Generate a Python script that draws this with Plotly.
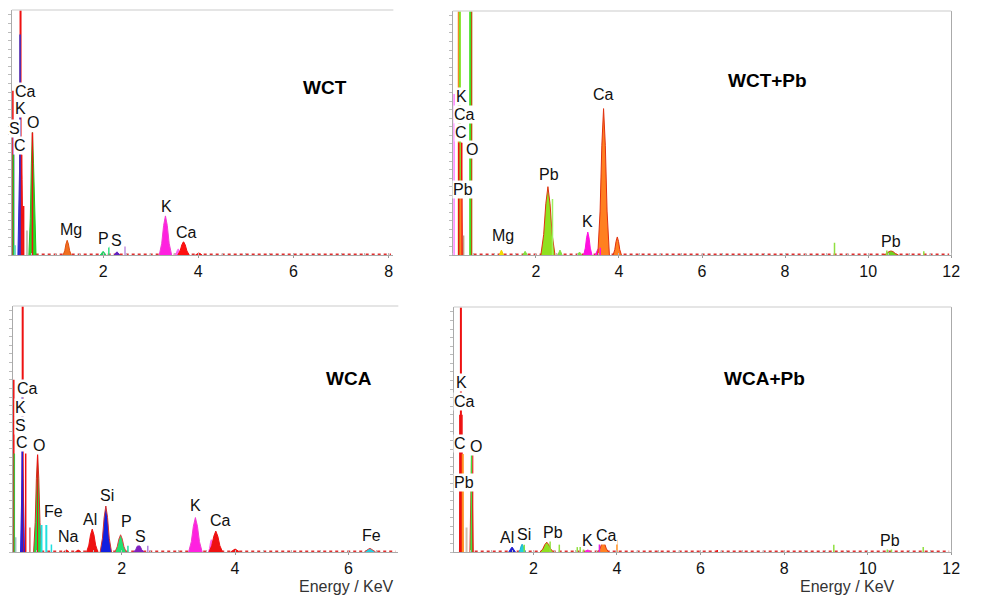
import plotly.graph_objects as go

FONT = "Arial, Liberation Sans, sans-serif"

# ---------------- Panel data (energy keV, height % of panel) ----------------
# Panel 1: WCT
p1_title = "WCT"
p1_pk_e = [0.25, 0.29, 0.515, 1.245, 2.0, 2.29, 3.31, 3.58, 3.69, 4.01]
p1_pk_h = [41, 41, 50, 6, 1.5, 1.3, 16, 2.5, 5.5, 0.8]
p1_pk_w = [0.04, 0.025, 0.075, 0.085, 0.06, 0.06, 0.13, 0.07, 0.12, 0.07]
p1_pk_c = ["#2a2ad8", "#ee1111", "#22e022", "#f07020", "#20d060", "#6020c0",
           "#ff20e0", "#ff60f0", "#ff1010", "#ff1010"]
p1_pk_l = ["#2a2ad8", "#ee1111", "#22c022", "#e05010", "#20d060", "#6020c0",
           "#f040d0", "#ff60f0", "#ee1010", "#ee1010"]
p1_st_e = [0.265, 0.255, 0.104, 0.12, 0.115, 0.33, 0.40, 0.145, 0.515, 2.12, 2.46]
p1_st_h = [105, 90, 67, 51, 41, 20, 10, 4, 50, 3.5, 3.5]
p1_st_c = ["#ee1111", "#3030d0", "#ee1111", "#8040e0", "#20c020", "#ee1111",
           "#c8c0b8", "#60d0c0", "#ee1111", "#30e080", "#c090e0"]
p1_st_w = [2, 1.5, 1.5, 1.5, 1.5, 1.5, 2, 2, 1.5, 1.5, 1.5]
p1_lb_t = ["Ca", "K", "S", "C", "O", "Mg", "P", "S", "K", "Ca"]
p1_lb_e = [0.375, 0.27, 0.146, 0.25, 0.52, 1.333, 2.0, 2.29, 3.33, 3.75]
p1_lb_y = [66.9, 59.6, 51.8, 44.5, 53.9, 10.6, 6.9, 6.1, 19.6, 9.0]
p1_ticks = [2, 4, 6, 8]

# Panel 2: WCT+Pb
p2_title = "WCT+Pb"
p2_pk_e = [0.2, 2.29, 3.25, 3.5, 3.63, 3.96, 1.17, 10.55, 1.74, 2.58, 3.05]
p2_pk_h = [46, 28, 9.4, 2.5, 60, 7.4, 2, 1.8, 1.5, 2, 1.2]
p2_pk_w = [0.03, 0.17, 0.1, 0.07, 0.14, 0.1, 0.05, 0.18, 0.05, 0.05, 0.05]
p2_pk_c = ["#ee1111", "#90e020", "#ff10e0", "#ff10e0", "#ff8020", "#ff8020",
           "#f0e000", "#70d020", "#80e040", "#80e040", "#80e040"]
p2_pk_l = ["#ee1111", "#e03010", "#ff10e0", "#ff10e0", "#e03010", "#e03010",
           "#f0d000", "#e03010", "#80e040", "#80e040", "#80e040"]
p2_st_e = [0.143, 0.17, 0.143, 0.215, 0.19, 0.43, 0.455, 0.26, 0.03, 2.4,
           9.19, 10.45, 11.34, 3.55]
p2_st_h = [105, 105, 46, 46, 27, 105, 105, 8, 66, 23, 5, 4.5, 1.5, 3]
p2_st_c = ["#ff8020", "#80e020", "#ee1111", "#ee1111", "#ff8020", "#40e020",
           "#e03010", "#c0a080", "#ff40ff", "#a0f060", "#90e040", "#90e040",
           "#90e040", "#ff10e0"]
p2_st_w = [2, 2, 1.5, 1.5, 1.5, 3, 1, 1.5, 1, 1.5, 1.5, 1.5, 1.5, 1.5]
p2_lb_t = ["K", "Ca", "C", "O", "Pb", "Mg", "Pb", "K", "Ca", "Pb"]
p2_lb_e = [0.215, 0.286, 0.19, 0.453, 0.239, 1.217, 2.315, 3.246, 3.628, 10.55]
p2_lb_y = [64.8, 57.4, 50.4, 43.4, 27.0, 7.8, 32.8, 13.9, 65.6, 5.7]
p2_ticks = [2, 4, 6, 8, 10, 12]

# Panel 3: WCA
p3_title = "WCA"
p3_pk_e = [0.25, 0.516, 1.48, 1.72, 1.98, 2.30, 3.30, 3.58, 3.66, 4.0, 6.38, 1.02, 1.23]
p3_pk_h = [40, 40, 9.3, 18.7, 7, 3, 14, 5, 8.5, 1.2, 1.5, 0.8, 0.8]
p3_pk_w = [0.035, 0.07, 0.1, 0.1, 0.1, 0.09, 0.12, 0.05, 0.12, 0.08, 0.1, 0.05, 0.05]
p3_pk_c = ["#2020e0", "#20e040", "#ee1111", "#1020e0", "#20e070", "#8020c0",
           "#ff20e0", "#ff60f0", "#ee1111", "#ee1111", "#20d0e0", "#ee1111", "#ee1111"]
p3_pk_l = ["#2020e0", "#d03020", "#ee1111", "#d03030", "#e04040", "#8020c0",
           "#f040d0", "#ff60f0", "#ee1111", "#ee1111", "#e04040", "#ee1111", "#ee1111"]
p3_st_e = [0.253, 0.245, 0.096, 0.105, 0.306, 0.38, 0.13, 0.585, 0.67, 0.76,
           0.516, 2.11, 2.46]
p3_st_h = [105, 70, 70, 40, 40, 10, 6, 11, 11, 3, 40, 2.5, 2.5]
p3_st_c = ["#ee1111", "#2020e0", "#ee1111", "#40c040", "#ee1111", "#e06060",
           "#a0c0c0", "#20e0e0", "#20e0e0", "#20e0e0", "#ee1111", "#20e0a0", "#b080e0"]
p3_st_w = [2, 1.5, 1.5, 1.5, 1.5, 1.5, 1.5, 2, 2, 1.5, 1, 1.5, 1.5]
p3_lb_t = ["Ca", "K", "S", "C", "O", "Fe", "Na", "Al", "Si", "P", "S", "K", "Ca", "Fe"]
p3_lb_e = [0.341, 0.219, 0.219, 0.236, 0.533, 0.795, 1.058, 1.442, 1.74, 2.089,
           2.334, 3.295, 3.75, 6.41]
p3_lb_y = [66.3, 58.9, 51.6, 44.7, 43.1, 16.3, 6.1, 13.4, 22.8, 12.2, 6.1, 19.1, 13.0, 6.9]
p3_ticks = [2, 4, 6]

# Panel 4: WCA+Pb
p4_title = "WCA+Pb"
p4_pk_e = [0.26, 0.3, 0.52, 1.49, 1.73, 2.32, 3.3, 3.67]
p4_pk_h = [40, 40, 40, 2, 3.2, 4, 1, 4.2]
p4_pk_w = [0.03, 0.02, 0.04, 0.08, 0.08, 0.16, 0.07, 0.13]
p4_pk_c = ["#ee1111", "#ff9020", "#40e040", "#2020d0", "#20d0e0", "#90e020",
           "#ff20e0", "#ff8020"]
p4_pk_l = ["#ee1111", "#ff9020", "#e03020", "#2020d0", "#20b0d0", "#e03010",
           "#ff20e0", "#e03010"]
p4_st_e = [0.265, 0.24, 0.29, 0.31, 0.52, 0.55, 0.40, 0.07, 1.78, 2.4, 2.62,
           3.05, 3.12, 3.2, 3.58, 4.0, 9.19, 10.47, 10.57, 11.33, 6.4]
p4_st_h = [105, 56, 56, 40, 40, 42, 10, 60, 3, 6, 3, 2, 2, 2, 6, 5, 3, 4, 3, 2, 0.8]
p4_st_c = ["#ee1111", "#ee1111", "#ee1111", "#ff9020", "#40e040", "#ee1111",
           "#d0c0b0", "#e040e0", "#80e040", "#90e040", "#90e040", "#90e040",
           "#90e040", "#90e040", "#e020e0", "#ff9020", "#90e040", "#90e040",
           "#90e040", "#90e040", "#ee1111"]
p4_st_w = [2, 1.5, 1.5, 2, 1.5, 1, 2, 1, 1.5, 1.5, 1.5, 1.5, 1.5, 1.5, 1.5, 1.5,
           1.5, 1.5, 1.5, 1.5, 1.5]
p4_lb_t = ["K", "Ca", "C", "O", "Pb", "Al", "Si", "Pb", "K", "Ca", "Pb"]
p4_lb_e = [0.284, 0.355, 0.237, 0.616, 0.332, 1.374, 1.777, 2.464, 3.294, 3.744, 10.545]
p4_lb_y = [69.0, 61.6, 44.1, 42.9, 28.2, 6.1, 7.3, 7.8, 4.9, 6.9, 4.5]
p4_ticks = [2, 4, 6, 8, 10, 12]

panels = [
    dict(title=p1_title, pk=(p1_pk_e, p1_pk_h, p1_pk_w, p1_pk_c, p1_pk_l),
         st=(p1_st_e, p1_st_h, p1_st_c, p1_st_w), lb=(p1_lb_t, p1_lb_e, p1_lb_y),
         ticks=p1_ticks, xr=[0.083, 8.1], dom_x=[12, 397], dom_y=[10, 255],
         title_xy=(328, 75), right=False, xtitle=False),
    dict(title=p2_title, pk=(p2_pk_e, p2_pk_h, p2_pk_w, p2_pk_c, p2_pk_l),
         st=(p2_st_e, p2_st_h, p2_st_c, p2_st_w), lb=(p2_lb_t, p2_lb_e, p2_lb_y),
         ticks=p2_ticks, xr=[0.0, 12.0], dom_x=[457, 960], dom_y=[11, 255],
         title_xy=(816, 68), right=True, xtitle=False),
    dict(title=p3_title, pk=(p3_pk_e, p3_pk_h, p3_pk_w, p3_pk_c, p3_pk_l),
         st=(p3_st_e, p3_st_h, p3_st_c, p3_st_w), lb=(p3_lb_t, p3_lb_e, p3_lb_y),
         ticks=p3_ticks, xr=[0.08, 6.88], dom_x=[13, 402], dom_y=[306, 552],
         title_xy=(327, 378), right=False, xtitle=(350, 597)),
    dict(title=p4_title, pk=(p4_pk_e, p4_pk_h, p4_pk_w, p4_pk_c, p4_pk_l),
         st=(p4_st_e, p4_st_h, p4_st_c, p4_st_w), lb=(p4_lb_t, p4_lb_e, p4_lb_y),
         ticks=p4_ticks, xr=[0.095, 12.0], dom_x=[458, 960], dom_y=[307, 552],
         title_xy=(814, 378), right=True, xtitle=(905, 597)),
]

W, H = 983, 610
fig = go.Figure()
annotations = []
shapes = []

# relative profile of a peak (shape only)
prof_dx = [-1, -0.6, -0.3, 0, 0.3, 0.6, 1]
prof_dy = [0, 0.3, 0.75, 1, 0.75, 0.3, 0]

for i, p in enumerate(panels, start=1):
    xa = "x" if i == 1 else f"x{i}"
    ya = "y" if i == 1 else f"y{i}"
    fig.add_trace(go.Scatter(x=[p["xr"][0] + 0.5, p["xr"][1] - 0.05], y=[0.35, 0.35],
                             mode="lines", line=dict(color="#e03030", width=1.5, dash="dot"),
                             xaxis=xa, yaxis=ya, hoverinfo="skip"))
    pe, ph, pw, pc, pl = p["pk"]
    for e, h, w, c, l in zip(pe, ph, pw, pc, pl):
        fig.add_trace(go.Scatter(
            x=[e + d * w for d in prof_dx], y=[h * d for d in prof_dy],
            mode="lines", fill="toself", fillcolor=c,
            line=dict(color=l, width=1), xaxis=xa, yaxis=ya, hoverinfo="skip"))
    se, sh, sc, sw = p["st"]
    for e, h, c, w in zip(se, sh, sc, sw):
        fig.add_trace(go.Scatter(x=[e, e], y=[0, h], mode="lines",
                                 line=dict(color=c, width=w),
                                 xaxis=xa, yaxis=ya, hoverinfo="skip"))
    lt, le, ly = p["lb"]
    for t, e, yv in zip(lt, le, ly):
        annotations.append(dict(x=e, y=yv, xref=xa, yref=ya, text=t, showarrow=False,
                                bgcolor="white", borderpad=0,
                                font=dict(family=FONT, size=16, color="#111111")))
    tx, ty = p["title_xy"]
    annotations.append(dict(x=tx / W, y=1 - ty / H, xref="paper", yref="paper",
                            text=f"<b>{p['title']}</b>", showarrow=False,
                            font=dict(family=FONT, size=19, color="#000000")))
    if p["xtitle"]:
        ex, ey = p["xtitle"]
        annotations.append(dict(x=ex / W, y=1 - ey / H, xref="paper", yref="paper",
                                text="Energy / KeV", showarrow=False,
                                font=dict(family=FONT, size=16, color="#333333")))
    dx0, dx1 = p["dom_x"]
    dy0, dy1 = p["dom_y"]
    xkey = "xaxis" if i == 1 else f"xaxis{i}"
    ykey = "yaxis" if i == 1 else f"yaxis{i}"
    fig.update_layout(**{
        xkey: dict(domain=[dx0 / W, dx1 / W], range=p["xr"], anchor=ya,
                   tickvals=p["ticks"], ticks="outside", ticklen=2, tickcolor="#999999",
                   showline=True, linecolor="#aaaaaa", linewidth=1, showgrid=False,
                   zeroline=False, tickfont=dict(family=FONT, size=16, color="#111111"),
                   minor=dict(ticks="inside", ticklen=2, dtick=0.5, tickcolor="#bbbbbb"),
                   fixedrange=True),
        ykey: dict(domain=[1 - dy1 / H, 1 - dy0 / H], range=[0, 100], anchor=xa,
                   showticklabels=False, ticks="outside", ticklen=3, dtick=3.5,
                   tickcolor="#bbbbbb", showline=True, linecolor="#aaaaaa",
                   linewidth=1, showgrid=False, zeroline=False,
                   mirror=p["right"], fixedrange=True),
    })
    shapes.append(dict(type="line", xref=f"{xa} domain", yref=f"{ya} domain",
                       x0=0, x1=1, y0=1, y1=1, line=dict(color="#dddddd", width=1.5)))

fig.update_layout(width=W, height=H, margin=dict(l=0, r=0, t=0, b=0),
                  paper_bgcolor="white", plot_bgcolor="white", showlegend=False,
                  annotations=annotations, shapes=shapes)

fig.write_html("out.html")
